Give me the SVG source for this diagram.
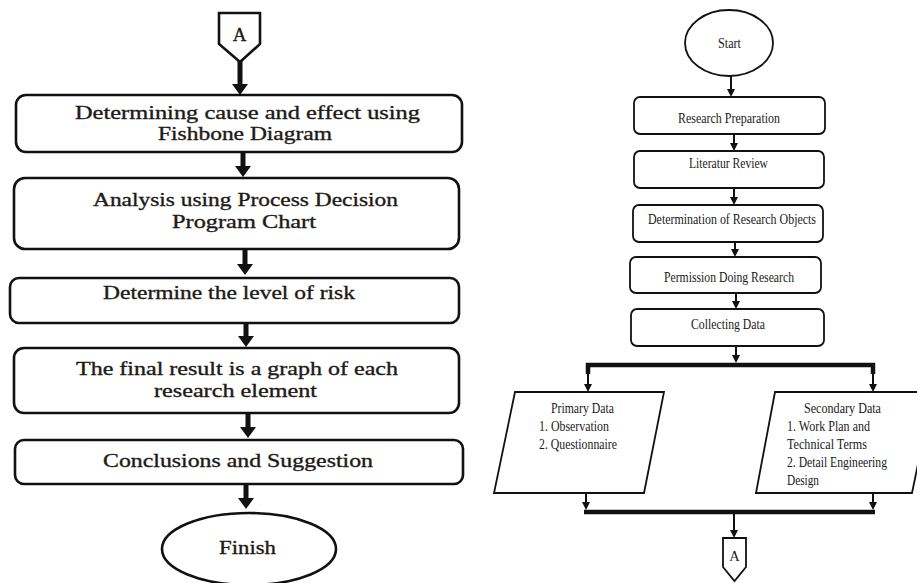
<svg xmlns="http://www.w3.org/2000/svg" width="917" height="583" viewBox="0 0 917 583">
  <style>
    .shape { fill: #fff; stroke: #111; }
    .lg { stroke-width: 2.6; }
    .sm { stroke-width: 1.8; }
    .t-lg { font-family: "Liberation Serif", "Times New Roman", serif; font-size: 19px; fill: #1e1a16; stroke: #1e1a16; stroke-width: 0.35; text-anchor: middle; }
    .t-sm { font-family: "Liberation Serif", "Times New Roman", serif; font-size: 14.5px; fill: #1a1a1a; }
    .mid { text-anchor: middle; }
    .wire-lg { stroke: #111; stroke-width: 5; fill: none; }
    .wire-sm { stroke: #111; stroke-width: 2; fill: none; }
    .bar { stroke: #111; stroke-width: 4.5; fill: none; stroke-linejoin: miter; }
  </style>
  <defs>
    <marker id="head-lg" viewBox="0 0 11 16" markerWidth="11" markerHeight="16" refX="0" refY="8" orient="auto" markerUnits="userSpaceOnUse">
      <path d="M0,0 L11,8 L0,16 Z" fill="#111"/>
    </marker>
    <marker id="head-sm" viewBox="0 0 8 8" markerWidth="8" markerHeight="8" refX="0" refY="4" orient="auto" markerUnits="userSpaceOnUse">
      <path d="M0,0 L8,4 L0,8 Z" fill="#111"/>
    </marker>
  </defs>

  <rect width="917" height="583" fill="#fff"/>

  <!-- connectors -->
  <g id="connectors">
    <!-- left column -->
    <line class="wire-lg" x1="240" y1="60" x2="240" y2="84" marker-end="url(#head-lg)"/>
    <line class="wire-lg" x1="243" y1="152" x2="243" y2="166" marker-end="url(#head-lg)"/>
    <line class="wire-lg" x1="245" y1="249" x2="245" y2="264" marker-end="url(#head-lg)"/>
    <line class="wire-lg" x1="246" y1="323" x2="246" y2="336" marker-end="url(#head-lg)"/>
    <line class="wire-lg" x1="248" y1="413" x2="248" y2="427" marker-end="url(#head-lg)"/>
    <line class="wire-lg" x1="246" y1="484" x2="246" y2="498" marker-end="url(#head-lg)"/>

    <!-- right column -->
    <line class="wire-sm" x1="731" y1="76" x2="731" y2="89" marker-end="url(#head-sm)"/>
    <line class="wire-sm" x1="734" y1="134" x2="734" y2="143" marker-end="url(#head-sm)"/>
    <line class="wire-sm" x1="734" y1="188" x2="734" y2="197" marker-end="url(#head-sm)"/>
    <line class="wire-sm" x1="735" y1="242" x2="735" y2="249" marker-end="url(#head-sm)"/>
    <line class="wire-sm" x1="736" y1="293" x2="736" y2="301" marker-end="url(#head-sm)"/>
    <line class="wire-sm" x1="736" y1="346" x2="736" y2="355" marker-end="url(#head-sm)"/>

    <!-- split bar -->
    <polyline class="bar" points="588,374 588,365 873,365 873,374"/>
    <line class="wire-sm" x1="588" y1="372" x2="588" y2="384" marker-end="url(#head-sm)"/>
    <line class="wire-sm" x1="873" y1="372" x2="873" y2="384" marker-end="url(#head-sm)"/>

    <!-- merge bar -->
    <line class="wire-sm" x1="586" y1="493" x2="586" y2="502" marker-end="url(#head-sm)"/>
    <line class="wire-sm" x1="873" y1="493" x2="873" y2="502" marker-end="url(#head-sm)"/>
    <line class="bar" x1="584" y1="512" x2="875" y2="512"/>
    <line class="wire-sm" x1="734" y1="512" x2="734" y2="530" marker-end="url(#head-sm)"/>
  </g>

  <!-- left flow -->
  <g id="connector-a-top">
    <polygon class="shape lg" points="219,13 260,13 260,44 240,62 219,44"/>
    <text class="t-lg" x="239.5" y="41">A</text>
  </g>

  <g id="fishbone">
    <rect class="shape lg" x="16" y="95" width="446" height="57" rx="10"/>
    <text class="t-lg" x="247.5" y="119" textLength="345" lengthAdjust="spacingAndGlyphs">Determining cause and effect using</text>
    <text class="t-lg" x="245" y="140" textLength="174" lengthAdjust="spacingAndGlyphs">Fishbone Diagram</text>
  </g>

  <g id="pdpc">
    <rect class="shape lg" x="14" y="178" width="445" height="71" rx="11"/>
    <text class="t-lg" x="245.5" y="206" textLength="305" lengthAdjust="spacingAndGlyphs">Analysis using Process Decision</text>
    <text class="t-lg" x="244" y="228" textLength="144" lengthAdjust="spacingAndGlyphs">Program  Chart</text>
  </g>

  <g id="risk-level">
    <rect class="shape lg" x="10" y="278" width="449" height="45" rx="9"/>
    <text class="t-lg" x="229" y="299" textLength="252" lengthAdjust="spacingAndGlyphs">Determine the level of risk</text>
  </g>

  <g id="final-graph">
    <rect class="shape lg" x="14" y="348" width="445" height="65" rx="10"/>
    <text class="t-lg" x="237" y="375" textLength="322" lengthAdjust="spacingAndGlyphs">The final result is a graph of each</text>
    <text class="t-lg" x="235.5" y="397" textLength="163" lengthAdjust="spacingAndGlyphs">research element</text>
  </g>

  <g id="conclusions">
    <rect class="shape lg" x="15" y="440" width="448" height="44" rx="9"/>
    <text class="t-lg" x="238" y="467" textLength="270" lengthAdjust="spacingAndGlyphs">Conclusions and Suggestion</text>
  </g>

  <g id="finish">
    <ellipse class="shape lg" cx="249" cy="549" rx="87" ry="36"/>
    <text class="t-lg" x="247.5" y="554" textLength="57" lengthAdjust="spacingAndGlyphs">Finish</text>
  </g>

  <!-- right flow -->
  <g id="start">
    <ellipse class="shape sm" cx="729" cy="43" rx="44" ry="33"/>
    <text class="t-sm mid" x="729.5" y="48" textLength="23" lengthAdjust="spacingAndGlyphs">Start</text>
  </g>

  <g id="research-preparation">
    <rect class="shape sm" x="634" y="97" width="191" height="37" rx="6"/>
    <text class="t-sm mid" x="729" y="123" textLength="102" lengthAdjust="spacingAndGlyphs">Research Preparation</text>
  </g>

  <g id="literature-review">
    <rect class="shape sm" x="634" y="151" width="190" height="37" rx="6"/>
    <text class="t-sm mid" x="728.5" y="168" textLength="79" lengthAdjust="spacingAndGlyphs">Literatur Review</text>
  </g>

  <g id="research-objects">
    <rect class="shape sm" x="633" y="205" width="190" height="37" rx="6"/>
    <text class="t-sm mid" x="732" y="224" textLength="168" lengthAdjust="spacingAndGlyphs">Determination of Research Objects</text>
  </g>

  <g id="permission">
    <rect class="shape sm" x="630" y="257" width="191" height="36" rx="6"/>
    <text class="t-sm mid" x="729" y="282" textLength="130" lengthAdjust="spacingAndGlyphs">Permission Doing Research</text>
  </g>

  <g id="collecting-data">
    <rect class="shape sm" x="631" y="309" width="193" height="37" rx="6"/>
    <text class="t-sm mid" x="728" y="329" textLength="74" lengthAdjust="spacingAndGlyphs">Collecting Data</text>
  </g>

  <g id="primary-data">
    <polygon class="shape sm" points="515,392 664,392 644,493 494,493"/>
    <text class="t-sm mid" x="582.5" y="413" textLength="63" lengthAdjust="spacingAndGlyphs">Primary Data</text>
    <text class="t-sm" x="539" y="431" textLength="70" lengthAdjust="spacingAndGlyphs">1. Observation</text>
    <text class="t-sm" x="539" y="449" textLength="78" lengthAdjust="spacingAndGlyphs">2. Questionnaire</text>
  </g>

  <g id="secondary-data">
    <polygon class="shape sm" points="775,392 933,392 912,493 756,493"/>
    <text class="t-sm mid" x="842.5" y="413" textLength="77" lengthAdjust="spacingAndGlyphs">Secondary Data</text>
    <text class="t-sm" x="787" y="431" textLength="83" lengthAdjust="spacingAndGlyphs">1. Work Plan and</text>
    <text class="t-sm" x="787" y="449" textLength="80" lengthAdjust="spacingAndGlyphs">Technical Terms</text>
    <text class="t-sm" x="787" y="467" textLength="100" lengthAdjust="spacingAndGlyphs">2. Detail Engineering</text>
    <text class="t-sm" x="787" y="485" textLength="32" lengthAdjust="spacingAndGlyphs">Design</text>
  </g>

  <g id="connector-a-bottom">
    <polygon class="shape sm" points="723,538 746,538 746,567 734.5,581 723,567"/>
    <text class="t-sm mid" x="734.5" y="561" font-size="13">A</text>
  </g>
</svg>
